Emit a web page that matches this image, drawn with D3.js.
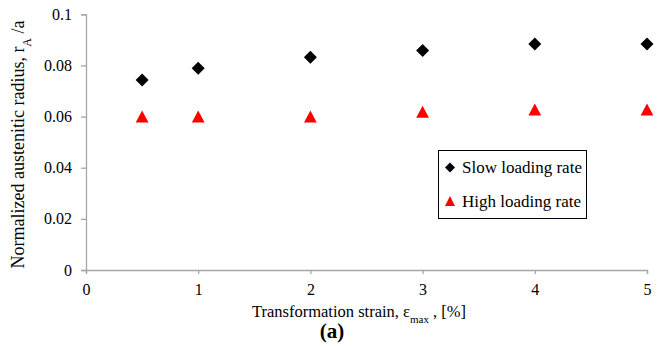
<!DOCTYPE html>
<html>
<head>
<meta charset="utf-8">
<script src="https://cdn.jsdelivr.net/npm/d3@7"></script>
<style>
  body { margin: 0; background: #fff; }
</style>
</head>
<body>
<div id="canvas"></div>
<script>
// data
var strain = [0.5, 1, 2, 3, 4, 5];
var slowRate = [0.0743, 0.0789, 0.0832, 0.0858, 0.0884, 0.0884];
var highRate = [0.0600, 0.0600, 0.0600, 0.0619, 0.0628, 0.0628];
var xTicks = [0, 1, 2, 3, 4, 5];
var yTicks = [0, 0.02, 0.04, 0.06, 0.08, 0.1];
var yTickLabels = ["0", "0.02", "0.04", "0.06", "0.08", "0.1"];
var legendNames = ["Slow loading rate", "High loading rate"];

var w = 672, h = 348;
var serif = "'Liberation Serif'";
var svg = d3.select("#canvas").append("svg").attr("width", w).attr("height", h)
    .attr("font-family", serif);

var x = d3.scaleLinear().domain([0, 5]).range([86, 647]);
var y = d3.scaleLinear().domain([0, 0.1]).range([270, 14.3]);

var axisColor = "#a6a6a6";

// y axis
var yAxis = svg.append("g").attr("transform", "translate(86,0)")
    .call(d3.axisLeft(y).tickValues(yTicks).tickSize(5).tickPadding(9)
        .tickFormat(function(d, i) { return yTickLabels[i]; }));
// x axis
var xAxis = svg.append("g").attr("transform", "translate(0,270)")
    .call(d3.axisBottom(x).tickValues(xTicks).tickSize(4).tickPadding(10).tickFormat(d3.format("d")));

[yAxis, xAxis].forEach(function(ax) {
    ax.attr("font-family", serif).attr("font-size", 16);
    ax.select(".domain").attr("stroke", axisColor).attr("stroke-width", 1.3);
    ax.selectAll(".tick line").attr("stroke", axisColor).attr("stroke-width", 1.3);
    ax.selectAll(".tick text").attr("fill", "#000");
});

// marker shapes
function diamond(r) {
    var p = d3.path();
    p.moveTo(0, -r); p.lineTo(r, 0); p.lineTo(0, r); p.lineTo(-r, 0); p.closePath();
    return p.toString();
}
function triangle(hw, hh) {
    var p = d3.path();
    p.moveTo(0, -hh); p.lineTo(hw, hh); p.lineTo(-hw, hh); p.closePath();
    return p.toString();
}

// points
svg.append("g").selectAll("path").data(strain).enter().append("path")
    .attr("d", diamond(6.5))
    .attr("transform", function(d, i) { return "translate(" + x(d) + "," + y(slowRate[i]) + ")"; })
    .attr("fill", "#000");

svg.append("g").selectAll("path").data(strain).enter().append("path")
    .attr("d", triangle(6.4, 6))
    .attr("transform", function(d, i) { return "translate(" + x(d) + "," + y(highRate[i]) + ")"; })
    .attr("fill", "#ff0000");

// legend
var legend = svg.append("g").attr("transform", "translate(438.5,150.5)");
legend.append("rect").attr("width", 148).attr("height", 68)
    .attr("fill", "#fff").attr("stroke", "#000").attr("stroke-width", 1);
legend.append("path").attr("d", diamond(5)).attr("transform", "translate(11.5,17)").attr("fill", "#000");
legend.append("path").attr("d", triangle(5, 5)).attr("transform", "translate(11.5,50.5)").attr("fill", "#ff0000");
legend.selectAll("text.lg").data(legendNames).enter().append("text")
    .attr("class", "lg")
    .attr("x", 23.5)
    .attr("y", function(d, i) { return 22 + i * 34; })
    .attr("font-family", serif).attr("font-size", 17)
    .text(function(d) { return d; });

// y axis title
var yt = svg.append("text")
    .attr("transform", "translate(23.5,144.5) rotate(-90)")
    .attr("text-anchor", "middle")
    .attr("font-family", serif).attr("font-size", 18);
yt.append("tspan").text("Normalized austenitic radius, r");
yt.append("tspan").attr("baseline-shift", "sub").attr("font-size", 12).text("A");
yt.append("tspan").text(" /a");

// x axis title
var xt = svg.append("text")
    .attr("x", 359).attr("y", 316.5)
    .attr("text-anchor", "middle")
    .attr("font-family", serif).attr("font-size", 16.5);
xt.append("tspan").text("Transformation strain, \u03b5");
xt.append("tspan").attr("baseline-shift", "sub").attr("font-size", 11).text("max");
xt.append("tspan").text(" , [%]");

// panel label
svg.append("text")
    .attr("x", 332).attr("y", 338)
    .attr("text-anchor", "middle")
    .attr("font-family", serif).attr("font-size", 21).attr("font-weight", "bold")
    .text("(a)");
</script>
</body>
</html>
